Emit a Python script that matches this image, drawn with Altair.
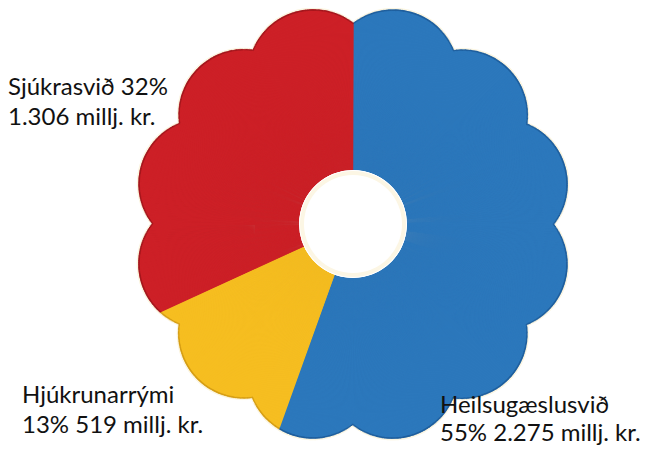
import math
import numpy as np
import pandas as pd
import altair as alt

# ---- data ----
names = ["Heilsugæslusvið", "Hjúkrunarrými", "Sjúkrasvið"]
values = [2275, 519, 1306]          # millj. kr.
colors = ["#2C78BC", "#F6BE21", "#CD2027"]
rim_colors = ["#1F5F9E", "#D69E14", "#A5171D"]
label_line1 = ["Heilsugæslusvið", "Hjúkrunarrými", "Sjúkrasvið 32%"]
label_line2 = ["55% 2.275 millj. kr.", "13% 519 millj. kr.", "1.306 millj. kr."]

# ---- layout / style constants ----
CX, CY = 345, 216          # centre of the flower (chart coords)
R_PEAK, R_NOTCH, R_HOLE = 219, 200, 53
N_PETALS = 12
STEP = 0.3                 # degrees per rendering slice
OVERLAP = 0.2              # degrees of overlap to hide seams
label_pos = [(432, 405), (14, 395), (0, 87)]
label_lh = [28, 30, 30]
FONT = "Lato"
FONT_SIZE = 24

# petal geometry (circular scallops meeting in sharp notches)
half = math.pi / N_PETALS
d = (R_PEAK**2 - R_NOTCH**2) / (2 * (R_PEAK - R_NOTCH * math.cos(half)))
p = R_PEAK - d
petal_deg = 360 / N_PETALS


def flower_r(a_deg):
    phi = math.radians((a_deg % petal_deg) - petal_deg / 2)
    return d * math.cos(phi) + math.sqrt(max(p * p - (d * math.sin(phi)) ** 2, 0))


total = sum(values)
rows = []
start = 0.0
for name, v in zip(names, values):
    end = start + 360 * v / total
    n = max(1, int(math.ceil((end - start) / STEP)))
    edges = np.linspace(start, end, n + 1)
    for a0, a1 in zip(edges[:-1], edges[1:]):
        rows.append({"cat": name, "a0": a0, "a1": a1 + OVERLAP, "r": flower_r((a0 + a1) / 2)})
    start = end
slices = pd.DataFrame(rows)

color_scale = alt.Scale(domain=names, range=colors)
rim_scale = alt.Scale(domain=names, range=rim_colors)
glow_scale = alt.Scale(domain=names, range=["#FBF5E1"] * 3)
theta_scale = alt.Scale(type="linear", domain=[0, 360], range=[0, 2 * math.pi])
radius_scale = alt.Scale(type="linear", domain=[0, R_PEAK], range=[0, R_PEAK], zero=True)


def flower_layer(scale, extra):
    return alt.Chart(slices).transform_calculate(
        rr=f"datum.r + {extra}"
    ).mark_arc(innerRadius=R_HOLE - 4).encode(
        theta=alt.Theta("a0:Q", scale=theta_scale),
        theta2="a1:Q",
        radius=alt.Radius("rr:Q", scale=radius_scale),
        color=alt.Color("cat:N", scale=scale, legend=None),
        x=alt.value(CX),
        y=alt.value(CY),
    )


glow = flower_layer(glow_scale, 2.5)
rim = flower_layer(rim_scale, 1.0)
main = flower_layer(color_scale, -0.7)

cats = pd.DataFrame({"cat": names, "value": values, "idx": list(range(len(names)))})
separators = alt.Chart(cats).mark_arc(
    innerRadius=R_HOLE, outerRadius=R_PEAK + 6, fillOpacity=0, stroke="white", strokeWidth=1.5
).encode(
    theta=alt.Theta("value:Q", stack=True),
    order=alt.Order("idx:Q"),
    x=alt.value(CX),
    y=alt.value(CY),
)

hole = alt.Chart(cats.head(1)).mark_arc(
    innerRadius=0, outerRadius=R_HOLE, fill="#FCF6E4"
).encode(theta=alt.value(2 * math.pi), x=alt.value(CX), y=alt.value(CY))
hole_inner = alt.Chart(cats.head(1)).mark_arc(
    innerRadius=0, outerRadius=R_HOLE - 4, fill="white"
).encode(theta=alt.value(2 * math.pi), x=alt.value(CX), y=alt.value(CY))

texts = []
for l1, l2, (tx, ty), lh in zip(label_line1, label_line2, label_pos, label_lh):
    texts.append(
        alt.Chart(pd.DataFrame({"t": [f"{l1}\n{l2}"]})).mark_text(
            align="left", baseline="alphabetic", font=FONT, fontSize=FONT_SIZE,
            lineHeight=lh, lineBreak="\n", color="#111111"
        ).encode(text="t:N", x=alt.value(tx), y=alt.value(ty))
    )

chart = alt.layer(glow, rim, main, separators, hole, hole_inner, *texts).resolve_scale(
    color="independent"
).properties(
    width=636, height=443, padding=0,
    autosize=alt.AutoSizeParams(type="none"),
).configure_view(stroke=None)

chart.save("out.html", embed_options={"renderer": "svg", "actions": False})
